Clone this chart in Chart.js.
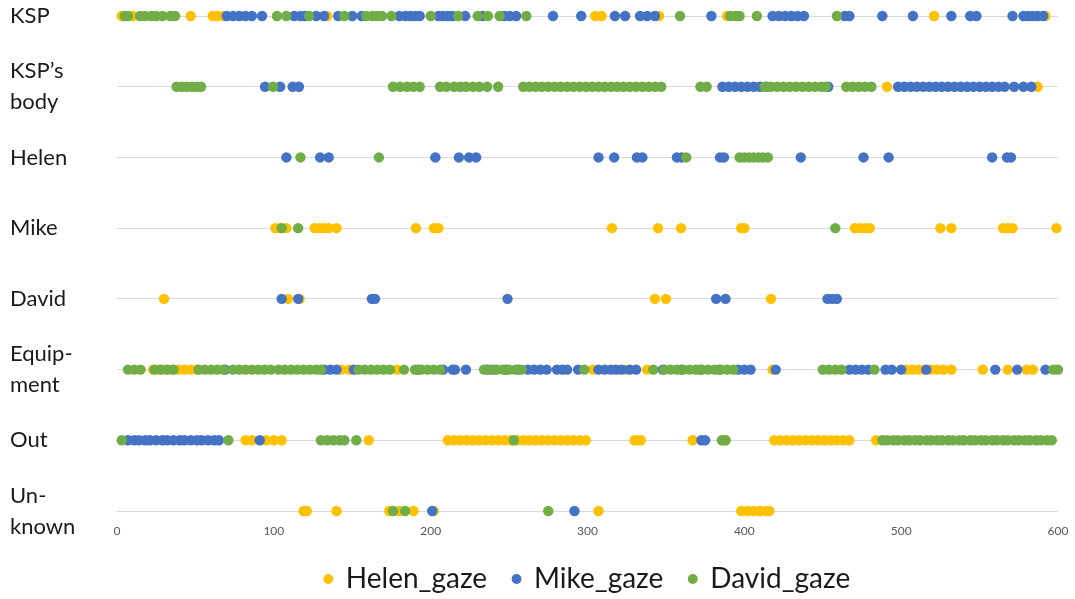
<!DOCTYPE html>
<html>
<head>
<meta charset="utf-8">
<script src="https://cdn.jsdelivr.net/npm/chart.js@4.4.0/dist/chart.umd.min.js"></script>
<style>
  html, body { margin: 0; padding: 0; background: #fff; }
  #wrap { width: 1075px; height: 599px; }
</style>
</head>
<body>
<div id="wrap"><canvas id="gaze" width="1075" height="599"></canvas></div>
<script>
// gaze targets, top to bottom
var rowLabels = ['KSP', ['KSP\u2019s', 'body'], 'Helen', 'Mike', 'David', ['Equip-', 'ment'], 'Out', ['Un-', 'known']];
var xTicks = [0, 100, 200, 300, 400, 500, 600];

// one list of x values (frames) per row, same order as rowLabels
var helenGaze = [
  [3, 9, 10, 47, 61, 64, 68, 134, 305, 309, 345.6, 389, 521, 592],
  [491, 587],
  [],
  [101, 104, 108, 126, 129, 132, 135, 140, 190.6, 202, 205, 315.6, 345, 359.6, 398, 400, 470.5, 474, 477, 480, 525, 532, 565, 568, 571, 599],
  [30, 109, 116.5, 343, 350, 417],
  [23, 27, 31, 35, 39, 43, 47, 51, 143, 148, 178.5, 303.5, 320, 325, 338, 418, 503, 507, 511, 515, 519, 523, 527, 532, 552, 568, 580, 584],
  [82, 86, 95, 100, 105, 160.5, 211, 215, 219, 223, 227, 231, 235, 239, 243, 247, 251, 255, 259, 263, 267, 271, 275, 279, 283, 287, 291, 295, 299,
   330, 332, 334, 367, 388, 419, 423, 427, 431, 435, 439, 443, 447, 451, 455, 459, 463, 467, 484],
  [119, 121, 140, 173.6, 180, 189, 202, 307, 398, 402, 406, 410, 414, 416]
];

var mikeGaze = [
  [70, 74, 78, 82, 86, 92.5, 113, 117, 120, 127, 132, 141, 150, 156, 180, 184, 187, 190, 193, 205, 208, 211, 214, 222, 233, 247, 250.5, 254.5,
   278, 296, 317.5, 324, 333.5, 338, 343, 379, 418, 422, 426, 430, 434, 438, 464, 467, 488, 507.5, 532, 544, 548, 571, 578, 581, 584, 587, 590.5],
  [94.4, 104, 112, 116, 386, 390, 394, 398, 402, 406, 410, 414, 453.5, 498, 502, 506, 510, 514, 518, 522, 526, 530, 534, 538, 542, 546, 550, 554, 558,
   562, 566, 572, 578, 583],
  [108, 129.5, 135, 203, 218, 224.5, 229, 307, 317, 331.5, 335, 357, 360, 384.5, 387, 436, 476, 492, 558, 567.5, 570],
  [],
  [105, 115.5, 162.5, 164.5, 249, 382, 388, 453, 456, 459],
  [69, 132, 136, 140, 151, 192, 208, 214, 215.5, 222.5, 236, 240, 248, 256, 262, 266, 270, 274, 280.5, 284, 287, 294, 307, 311, 315, 318, 322, 327, 331,
   348, 360, 372, 384, 396, 400, 404, 420, 467, 471, 475, 479, 490, 494, 500, 516, 560, 574, 592],
  [7, 11, 14, 18, 21, 25, 29, 32, 36, 40, 43, 47, 51, 54, 58, 62, 65, 91, 372.6, 375],
  [201, 291.7]
];

var davidGaze = [
  [5, 7, 14.7, 18, 22, 25, 29, 34, 37, 102, 108, 122.5, 145, 159, 163, 166, 169, 175, 200, 217.5, 230, 236.5, 244, 261, 359, 391, 394.5, 397, 408, 459],
  [38, 41.5, 44.6, 48, 51, 53.6, 99.5, 176, 180.5, 185, 189, 193, 206, 210, 215, 219, 222.5, 227, 231, 236, 243,
   259, 263, 267, 271, 275, 279, 283, 287, 291, 295, 299, 303, 307, 311, 315, 319, 323, 327, 331, 335, 339, 343, 347, 372, 376,
   413, 417, 421, 425, 429, 433, 437, 441, 445, 449, 452, 465, 469, 473, 477, 481],
  [117, 167, 363, 397, 400, 403, 406, 409, 412, 415],
  [105, 115.5, 458],
  [],
  [7, 11, 15, 24, 28, 32, 36, 52, 56, 60, 64, 68, 74, 78, 82, 86, 90, 94, 98, 103, 107, 111, 115, 119, 123, 127, 130,
   154, 158, 162, 166, 170, 174, 183, 190, 194, 198, 202, 206, 234, 238, 242, 246, 250, 254, 258, 298, 342,
   349, 353, 357, 361, 365, 369, 373, 377, 381, 385, 389, 393, 450, 454, 458, 462, 483, 597, 600],
  [3, 71, 130, 134, 138, 142, 145, 152.6, 253, 385.7, 388, 488, 491, 495, 498, 502, 505, 509, 512, 516, 519, 523, 526, 530, 533, 537, 540,
   544, 547, 551, 554, 558, 561, 565, 568, 572, 575, 579, 582, 586, 589, 593, 596],
  [176, 183.7, 275]
];

function toPoints(rows) {
  var pts = [];
  rows.forEach(function(xs, row) {
    xs.forEach(function(x) { pts.push({x: x, y: row}); });
  });
  return pts;
}

var fontFamily = 'Lato, "Noto Sans", sans-serif';

function series(label, rows, color, order) {
  return {
    label: label,
    data: toPoints(rows),
    backgroundColor: color,
    borderColor: color,
    borderWidth: 0,
    pointRadius: 5.2,
    pointHoverRadius: 5.2,
    pointStyle: 'circle',
    order: order,
    clip: false
  };
}

new Chart('gaze', {
  type: 'scatter',
  data: {
    datasets: [
      series('Helen_gaze', helenGaze, '#FFC000', 3),
      series('Mike_gaze', mikeGaze, '#4472C4', 2),
      series('David_gaze', davidGaze, '#70AD47', 1)
    ]
  },
  options: {
    responsive: false,
    animation: false,
    layout: { padding: { top: 16, left: 10, right: 17, bottom: 0 } },
    scales: {
      x: {
        type: 'linear',
        min: 0,
        max: 600,
        afterBuildTicks: function(s) { s.ticks = xTicks.map(function(v) { return {value: v}; }); },
        afterFit: function(s) { s.height = 20; },
        ticks: { color: '#595959', padding: 5, font: { size: 12, family: fontFamily } },
        grid: { display: false, drawTicks: false },
        border: { display: false }
      },
      y: {
        type: 'linear',
        reverse: true,
        min: 0,
        max: 7.113,
        afterBuildTicks: function(s) { s.ticks = rowLabels.map(function(l, i) { return {value: i}; }); },
        afterFit: function(s) { s.width = 107; s.paddingTop = 0; s.paddingBottom = 0; },
        ticks: {
          callback: function(v) { return rowLabels[v]; },
          crossAlign: 'far',
          color: '#1a1a1a',
          font: { size: 22, family: fontFamily, lineHeight: 1.4 }
        },
        grid: { color: '#d9d9d9', drawTicks: false },
        border: { display: false }
      }
    },
    plugins: {
      legend: {
        position: 'bottom',
        fullSize: false,
        maxHeight: 60,
        labels: {
          usePointStyle: true,
          pointStyle: 'circle',
          boxWidth: 7,
          boxHeight: 7,
          padding: 26,
          color: '#1a1a1a',
          font: { size: 28, family: fontFamily },
          sort: function(a, b) { return a.datasetIndex - b.datasetIndex; }
        }
      },
      tooltip: { enabled: false }
    }
  }
});
</script>
</body>
</html>
